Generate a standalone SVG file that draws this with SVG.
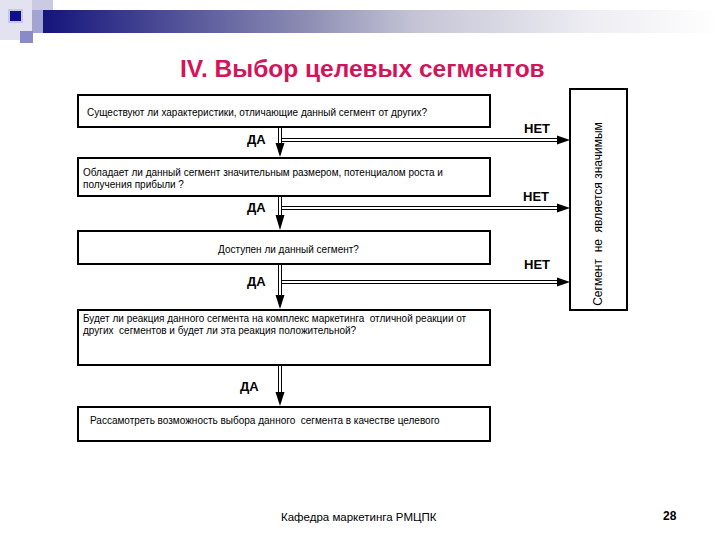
<svg xmlns="http://www.w3.org/2000/svg" width="720" height="540" viewBox="0 0 720 540">
<style>
.box{fill:#fff;stroke:#000;stroke-width:2}
.t{font-family:"Liberation Sans",Arial,sans-serif;font-size:10px;fill:#000}
.lbl{font-family:"Liberation Sans",Arial,sans-serif;font-size:13px;font-weight:bold;fill:#000}
.sh{stroke:#000;stroke-width:1;fill:none}
.head{fill:#000}
</style>
<defs>
<linearGradient id="band" x1="0" y1="0" x2="1" y2="0">
<stop offset="0" stop-color="#14147c"/>
<stop offset="0.38" stop-color="#8a8ab2"/>
<stop offset="0.55" stop-color="#c4c4d6"/>
<stop offset="0.8" stop-color="#ececf2"/>
<stop offset="1" stop-color="#ffffff"/>
</linearGradient>
</defs>
<rect width="720" height="540" fill="#fff"/>
<g id="decor">
<rect x="0" y="0" width="32" height="40" fill="#e2e2f0"/>
<rect x="32" y="0" width="21" height="20" fill="#cacae2"/>
<rect x="43" y="10" width="677" height="23" fill="url(#band)"/>
<rect x="32" y="10" width="11" height="23" fill="#a4a4d2"/>
<rect x="8" y="9" width="15" height="14" fill="#c8c8e8"/>
<rect x="10" y="11" width="11" height="10" fill="#10108c"/>
<rect x="20" y="31" width="13" height="12" fill="#8a8ac6"/>
</g>
<text id="title" x="180" y="77" font-family="'Liberation Sans',Arial,sans-serif" font-size="24.5" font-weight="bold" fill="#d4145a">IV. Выбор целевых сегментов</text>
<g id="right">
<rect x="570" y="89" width="57" height="221" fill="#fff" stroke="#000" stroke-width="2"/>
<text transform="translate(602,214) rotate(-90)" text-anchor="middle" font-family="'Liberation Sans',Arial,sans-serif" font-size="12" fill="#000" xml:space="preserve">Сегмент  не  является значимым</text>
</g>
<g id="n1">
<rect class="box" x="78" y="95" width="412" height="32"/>
<text class="t" x="87" y="116">Существуют ли характеристики, отличающие данный сегмент от других?</text>
</g>
<g id="n2">
<rect class="box" x="78" y="158" width="412" height="38"/>
<text class="t" x="83" y="176">Обладает ли данный сегмент значительным размером, потенциалом роста и</text>
<text class="t" x="83" y="188">получения прибыли ?</text>
</g>
<g id="n3">
<rect class="box" x="78" y="231" width="412" height="33"/>
<text class="t" x="218" y="253">Доступен ли данный сегмент?</text>
</g>
<g id="n4">
<rect class="box" x="78" y="310" width="412" height="55"/>
<text class="t" x="83" y="322" xml:space="preserve">Будет ли реакция данного сегмента на комплекс маркетинга  отличной реакции от</text>
<text class="t" x="83" y="334" xml:space="preserve">других  сегментов и будет ли эта реакция положительной?</text>
</g>
<g id="n5">
<rect class="box" x="78" y="407" width="412" height="34"/>
<text class="t" x="90" y="424" xml:space="preserve">Рассамотреть возможность выбора данного  сегмента в качестве целевого</text>
</g>
<g id="connectors">
<path class="sh" d="M278.5 128V144M281.5 128V144"/>
<polygon class="head" points="275.5,143 284.5,143 280,157"/>
<path class="sh" d="M278.5 197V216M281.5 197V216"/>
<polygon class="head" points="275.5,215 284.5,215 280,230"/>
<path class="sh" d="M278.5 265V296M281.5 265V296"/>
<polygon class="head" points="275.5,295 284.5,295 280,309"/>
<path class="sh" d="M278.5 366V393M281.5 366V393"/>
<polygon class="head" points="275.5,392 284.5,392 280,406"/>
<path class="sh" d="M281.5 138.5H560M281.5 141.5H560"/>
<polygon class="head" points="557,135.5 557,144.5 570,140"/>
<path class="sh" d="M281.5 206.5H560M281.5 209.5H560"/>
<polygon class="head" points="557,203.5 557,212.5 570,208"/>
<path class="sh" d="M281.5 280.5H560M281.5 283.5H560"/>
<polygon class="head" points="557,277.5 557,286.5 570,282"/>
<text class="lbl" x="247" y="144">ДА</text>
<text class="lbl" x="247" y="212">ДА</text>
<text class="lbl" x="247" y="286">ДА</text>
<text class="lbl" x="240" y="391">ДА</text>
<text class="lbl" x="524" y="133">НЕТ</text>
<text class="lbl" x="523" y="201">НЕТ</text>
<text class="lbl" x="524" y="269">НЕТ</text>
</g>
<text id="footer" x="281" y="521" font-family="'Liberation Sans',Arial,sans-serif" font-size="11.5" fill="#000">Кафедра маркетинга РМЦПК</text>
<text id="page" x="663" y="520" font-family="'Liberation Sans',Arial,sans-serif" font-size="12" font-weight="bold" fill="#000">28</text>
</svg>
